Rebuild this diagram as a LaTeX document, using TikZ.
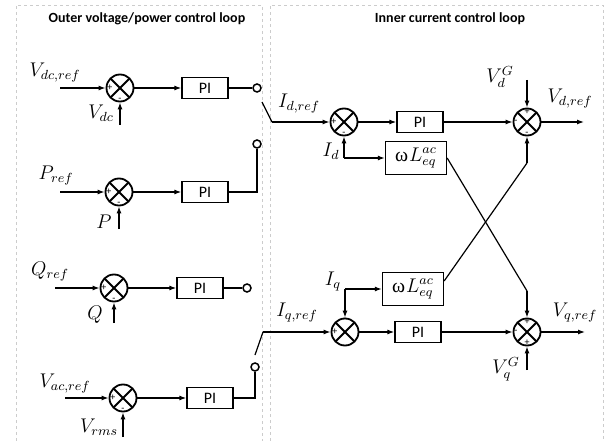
\RequirePackage{fix-cm}
\documentclass[tikz,border=0pt]{standalone}
\usepackage{fontspec}
\newfontfamily\carlito{Carlito}
\newfontfamily\libserif{Liberation Serif}
\usetikzlibrary{arrows.meta, positioning}
\newcommand{\lbsc}[1]{\scalebox{1.65}{$#1$}}
\newcommand{\wleq}{\scalebox{1.65}{{\libserif ω}\kern0.6pt$L_{eq}^{ac}$}}
\tikzset{
  sumnode/.style={
    circle,
    draw,
    line width=1.8pt,
    minimum size=27pt,
    inner sep=0pt,
    path picture={
      \draw[line width=1.8pt] (path picture bounding box.north west) -- (path picture bounding box.south east)
        (path picture bounding box.south west) -- (path picture bounding box.north east);
    }
  },
  pibox/.style={
    rectangle,
    draw,
    line width=1.3pt,
    minimum width=46pt,
    minimum height=21pt,
    inner sep=0pt,
    font=\carlito\fontsize{16}{16}\selectfont
  },
  wlbox/.style={
    rectangle,
    draw,
    line width=1.3pt,
    minimum width=61pt,
    minimum height=33pt,
    inner sep=0pt,
    font=\fontsize{12}{14}\selectfont
  },
  term/.style={circle, draw, line width=1.5pt, minimum size=8pt, inner sep=0pt, fill=white},
  sgn/.style={font=\carlito\fontsize{10}{10}\selectfont, inner sep=0pt},
  lbl/.style={font=\fontsize{12}{14}\selectfont, inner sep=0pt},
  sig/.style={line width=1.2pt, -{Latex[length=7pt,width=5pt]}},
  wire/.style={line width=1.2pt},
  thickwire/.style={line width=2.2pt},
  loopbox/.style={draw=gray!40, dashed, line width=0.8pt},
  looptitle/.style={font=\carlito\bfseries\fontsize{14}{14}\selectfont}
}

\begin{document}
\begin{tikzpicture}[x=1pt, y=-1pt]
\useasboundingbox (0,0) rectangle (616,441);

% --- loop frames ---
\draw[loopbox] (16,441) -- (16,5) -- (262,5) -- (262,441);
\draw[loopbox] (270,441) -- (270,5) -- (603,5) -- (603,441);
\node (outertitle) [looptitle] at (147,19) {Outer voltage/power control loop};
\node (innertitle) [looptitle] at (450,19) {Inner current control loop};

% --- outer loop, first row ---
\node (s1) [sumnode] at (120,88) {};
\node (pi1) [pibox] at (205,88) {PI};
\node (t1) [term] at (257,88) {};
\coordinate (in1) at (60,88);
\coordinate (fb1) at (120,125);
\node (vdcref) [lbl] at (55,73) {\lbsc{V_{dc,ref}}};
\node (vdc) [lbl] at (101,113) {\lbsc{V_{dc}}};
\node [sgn, right=1.5pt of s1.west] {+};
\node [sgn, above=1pt of s1.south] {-};

% --- outer loop, second row ---
\node (s2) [sumnode] at (119,192) {};
\node (pi2) [pibox] at (205,192) {PI};
\node (t2) [term] at (257,144) {};
\coordinate (in2) at (60,192);
\coordinate (fb2) at (119,229);
\node (pref) [lbl] at (56,176) {\lbsc{P_{ref}}};
\node (pmeas) [lbl] at (104,222) {\lbsc{P}};
\node [sgn, right=1.5pt of s2.west] {+};
\node [sgn, above=1pt of s2.south] {-};

% --- outer loop, third row ---
\node (s3) [sumnode] at (114,288) {};
\node (pi3) [pibox] at (200,288) {PI};
\node (t3) [term] at (247,288) {};
\coordinate (in3) at (55,288);
\coordinate (fb3) at (114,323);
\node (qref) [lbl] at (50,272) {\lbsc{Q_{ref}}};
\node (qmeas) [lbl] at (95,315) {\lbsc{Q}};
\node [sgn, right=1.5pt of s3.west] {+};
\node [sgn, above=1pt of s3.south] {-};

% --- outer loop, fourth row ---
\node (s4) [sumnode] at (123,398) {};
\node (pi4) [pibox] at (210,398) {PI};
\node (t4) [term] at (255,367) {};
\coordinate (in4) at (65,398);
\coordinate (fb4) at (123,437);
\node (vacref) [lbl] at (65,384) {\lbsc{V_{ac,ref}}};
\node (vrms) [lbl] at (99,427) {\lbsc{V_{rms}}};
\node [sgn, right=1.5pt of s4.west] {+};
\node [sgn, above=1pt of s4.south] {-};

% --- switches ---
\coordinate (swd1) at (262,102);
\coordinate (swd2) at (272,122);
\coordinate (swq1) at (255,355);
\coordinate (swq2) at (263,332);

% --- inner loop, d axis ---
\node (sd) [sumnode] at (344,122) {};
\node (pid) [pibox] at (420,122) {PI};
\node (sdo) [sumnode] at (527,122) {};
\node (ld) [wlbox] at (416,158) {\wleq};
\coordinate (jd) at (344,158);
\coordinate (vdg) at (527,80);
\coordinate (outd) at (584,122);
\coordinate (kd) at (527,163);
\node (idref) [lbl] at (299,104) {\lbsc{I_{d,ref}}};
\node (id) [lbl] at (331,151) {\lbsc{I_d}};
\node (vdgl) [lbl] at (500,77) {\lbsc{V_d^G}};
\node (vdrefl) [lbl] at (570,99) {\lbsc{V_{d,ref}}};
\node [sgn, right=1.5pt of sd.west] {+};
\node [sgn, above=1pt of sd.south] {-};
\node [sgn, below=1.5pt of sdo.north] {+};
\node [sgn, right=1.5pt of sdo.west] {-};
\node [sgn, above=1pt of sdo.south] {-};

% --- inner loop, q axis ---
\node (sq) [sumnode] at (345,332) {};
\node (piq) [pibox] at (418,332) {PI};
\node (sqo) [sumnode] at (527,332) {};
\node (lq) [wlbox] at (413,289) {\wleq};
\coordinate (jq) at (345,289);
\coordinate (vqg) at (527,370);
\coordinate (outq) at (585,332);
\coordinate (kq) at (527,291);
\node (iqref) [lbl] at (297,313) {\lbsc{I_{q,ref}}};
\node (iq) [lbl] at (333,282) {\lbsc{I_q}};
\node (vqgl) [lbl] at (506,369) {\lbsc{V_q^G}};
\node (vqrefl) [lbl] at (575,313) {\lbsc{V_{q,ref}}};
\node [sgn, below=1pt of sq.north] {-};
\node [sgn, right=1.5pt of sq.west] {+};
\node [sgn, right=1.5pt of sqo.west] {-};
\node [sgn, below=1.5pt of sqo.north] {+};
\node [sgn, above=1pt of sqo.south] {+};

% --- outer arrows ---
\draw[sig] (in1) -- (s1.west);
\draw[sig] (fb1) -- (s1.south);
\draw[sig] (s1.east) -- (pi1.west);
\draw[thickwire] (pi1.east) -- (t1.west);
\draw[sig] (in2) -- (s2.west);
\draw[sig] (fb2) -- (s2.south);
\draw[sig] (s2.east) -- (pi2.west);
\draw[thickwire] (pi2.east) -| (t2.south);
\draw[sig] (in3) -- (s3.west);
\draw[sig] (fb3) -- (s3.south);
\draw[sig] (s3.east) -- (pi3.west);
\draw[thickwire] (pi3.east) -- (t3.west);
\draw[sig] (in4) -- (s4.west);
\draw[sig] (fb4) -- (s4.south);
\draw[sig] (s4.east) -- (pi4.west);
\draw[thickwire] (pi4.east) -| (t4.south);

% --- switch blades ---
\draw[wire] (swd1) -- (swd2);
\draw[sig] (swd2) -- (sd.west);
\draw[wire] (swq1) -- (swq2);
\draw[sig] (swq2) -- (sq.west);

% --- inner arrows ---
\draw[sig] (jd) -- (sd.south);
\draw[sig] (jd) -- (ld.west);
\draw[sig] (sd.east) -- (pid.west);
\draw[sig] (pid.east) -- (sdo.west);
\draw[sig] (vdg) -- (sdo.north);
\draw[sig] (sdo.east) -- (outd);
\draw[sig] (jq) -- (sq.north);
\draw[sig] (jq) -- (lq.west);
\draw[sig] (sq.east) -- (piq.west);
\draw[sig] (piq.east) -- (sqo.west);
\draw[sig] (vqg) -- (sqo.south);
\draw[sig] (sqo.east) -- (outq);

% --- cross coupling ---
\draw[wire] (ld.east) -- (kq);
\draw[sig] (kq) -- (sqo.north);
\draw[wire] ([yshift=8pt]lq.east) -- (kd);
\draw[sig] (kd) -- (sdo.south);

\end{tikzpicture}
\end{document}
